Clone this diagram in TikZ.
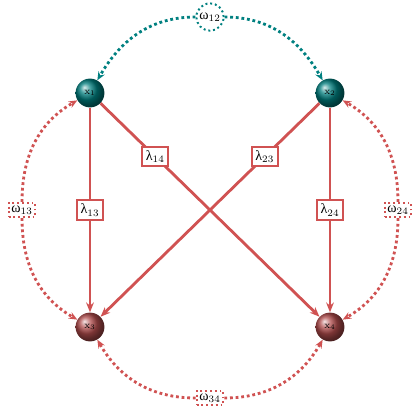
\documentclass[tikz,border=0pt]{standalone}
\usepackage{fontspec}
\newfontfamily\grk{Liberation Serif}
\usetikzlibrary{arrows.meta}
\definecolor{edgered}{RGB}{208,82,82}
\definecolor{ballred}{RGB}{175,75,75}
\definecolor{ballteal}{RGB}{0,125,125}
\definecolor{dotteal}{RGB}{0,128,128}
\begin{document}
\begin{tikzpicture}[x=0.025cm, y=-0.025cm,
  ball/.style={circle, minimum size=0.72cm, inner sep=0pt, shading=ball, font=\scriptsize},
  tealball/.style={ball, ball color=ballteal},
  redball/.style={ball, ball color=ballred},
  lam/.style={draw=edgered, line width=1.4pt, fill=white, inner sep=2.5pt},
  om/.style={draw, dotted, line width=1.4pt, fill=white, inner sep=2pt},
  link/.style={-{Stealth[length=7pt,width=5.5pt]}, draw=edgered, line width=2pt},
  corr/.style={-{Stealth[length=6pt,width=5pt]}, dotted, line width=2pt}
]
  \useasboundingbox (0,0) rectangle (420,420);
  % Nodes
  \node[tealball] (x1) at (90,93) {x$_1$};
  \node[tealball] (x2) at (330,93) {x$_2$};
  \node[redball] (x3) at (90,327) {x$_3$};
  \node[redball] (x4) at (330,327) {x$_4$};
  % Correlations
  \node[om, circle, draw=dotteal, inner sep=0.5pt, minimum size=0.68cm] (w12) at (210,17) {{\grk ω}$_{12}$};
  \node[om, draw=edgered] (w13) at (22,210) {{\grk ω}$_{13}$};
  \node[om, draw=edgered] (w24) at (398,210) {{\grk ω}$_{24}$};
  \node[om, draw=edgered] (w34) at (210,398) {{\grk ω}$_{34}$};
  % Arrows
  \draw[link] (x1) -- node[lam] {{\grk λ}$_{13}$} (x3);
  \draw[link] (x2) -- node[lam] {{\grk λ}$_{24}$} (x4);
  \draw[link] (x1) -- node[lam, pos=0.25] {{\grk λ}$_{14}$} (x4);
  \draw[link] (x2) -- node[lam, pos=0.25] {{\grk λ}$_{23}$} (x3);
  \draw[corr, dotteal] (w12) to[out=180, in=60] (x1);
  \draw[corr, dotteal] (w12) to[out=0, in=120] (x2);
  \draw[corr, edgered] (w13) to[out=90, in=210] (x1);
  \draw[corr, edgered] (w13) to[out=-90, in=150] (x3);
  \draw[corr, edgered] (w24) to[out=90, in=-30] (x2);
  \draw[corr, edgered] (w24) to[out=-90, in=30] (x4);
  \draw[corr, edgered] (w34) to[out=180, in=-60] (x3);
  \draw[corr, edgered] (w34) to[out=0, in=-120] (x4);
\end{tikzpicture}
\end{document}
